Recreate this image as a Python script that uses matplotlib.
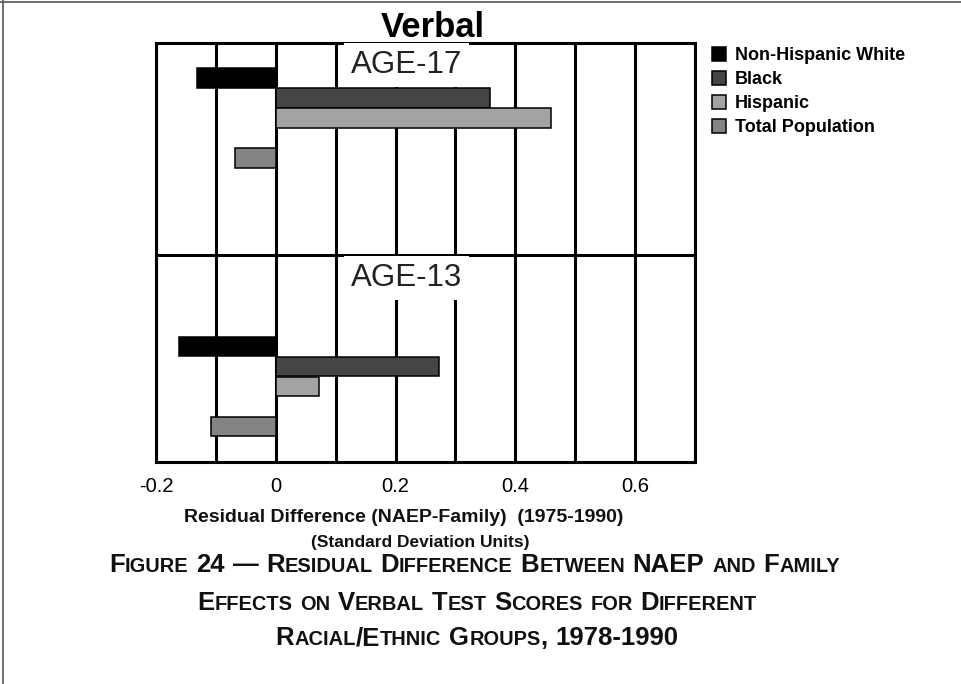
import matplotlib
matplotlib.use("Agg")
import matplotlib.pyplot as plt
from matplotlib import font_manager
from matplotlib.lines import Line2D
from matplotlib.offsetbox import TextArea, HPacker, AnnotationBbox

# data
groups = ["AGE-17", "AGE-13"]
series = ["Non-Hispanic White", "Black", "Hispanic", "Total Population"]
nhw = [-0.131, -0.162]
black = [0.357, 0.272]
hispanic = [0.459, 0.072]
total = [-0.068, -0.108]
tick_vals = [-0.2, 0, 0.2, 0.4, 0.6]
tick_labels = ["-0.2", "0", "0.2", "0.4", "0.6"]

# layout (y in "slot" units of ~20 px, top of axes = 0)
group_base = [1.75, 15.18]
series_offset = [0, 1, 2, 4]
label_y = [1.1, 11.75]
split_y = 10.6
colors = ["#000000", "#454545", "#a3a3a3", "#848484"]

names = {f.name for f in font_manager.fontManager.ttflist}
base_font = "Liberation Sans" if "Liberation Sans" in names else "DejaVu Sans"
cap_font = "Liberation Sans Narrow" if "Liberation Sans Narrow" in names else base_font
plt.rcParams["font.family"] = base_font

fig = plt.figure(figsize=(9.62, 6.84), dpi=100)
ax = fig.add_axes([156 / 962, 1 - 462 / 684, 539 / 962, 419 / 684])

values = [nhw, black, hispanic, total]
handles = []
for i, name in enumerate(series):
    ys = [b + series_offset[i] for b in group_base]
    h = ax.barh(ys, values[i], height=0.97, color=colors[i], edgecolor="black",
                linewidth=1.1, label=name, zorder=3)
    handles.append(h)

ax.set_xlim(-0.2, 0.7)
ax.set_ylim(20.95, 0)
ax.set_xticks(tick_vals)
ax.set_xticklabels(tick_labels, fontsize=14.5)
ax.set_xticks([-0.1, 0.1, 0.3, 0.5, 0.7], minor=True)
ax.set_yticks([])
ax.tick_params(axis="x", which="both", length=0, pad=11)
ax.grid(True, axis="x", which="both", color="black", linewidth=2.2, zorder=1)
ax.set_axisbelow(True)
for s in ax.spines.values():
    s.set_linewidth(2.2)
ax.axhline(split_y, color="black", linewidth=2.2, zorder=2)

for g, yy in zip(groups, label_y):
    ax.text(0.219, yy, g, fontsize=22.5, color="#222222", ha="center", va="center", zorder=4,
            bbox=dict(facecolor="white", edgecolor="none", pad=5))

fig.text(433 / 962, 1 - 37 / 684, "Verbal", fontsize=25, fontweight="bold",
         ha="center", va="baseline")

fig.text(404 / 962, 1 - 517 / 684, "Residual Difference (NAEP-Family)  (1975-1990)",
         fontsize=14, fontweight="bold", ha="center", va="center", color="#111111")
fig.text(420 / 962, 1 - 542 / 684, "(Standard Deviation Units)",
         fontsize=12.5, fontweight="bold", ha="center", va="center", color="#111111")

fig.legend(handles=handles, labels=series, loc="upper left",
           bbox_to_anchor=(703 / 962, 1 - 38 / 684), frameon=False, borderpad=0,
           handlelength=0.8, handleheight=0.85, handletextpad=0.45, labelspacing=0.36,
           prop=dict(family=base_font, weight="bold", size=13))


def caps_line(text, x, y, size):
    # fake small caps: lowercase letters drawn as smaller capitals
    words = []
    for w in text.split(" "):
        parts = []
        run, low = "", None
        for ch in w:
            is_low = ch.islower()
            if low is None or is_low == low:
                run += ch
            else:
                parts.append((run, low))
                run = ch
            low = is_low
        parts.append((run, low))
        kids = [TextArea(r.upper(), textprops=dict(fontsize=size * 0.78 if l else size,
                                                   family=cap_font, weight="bold",
                                                   color="#111111"))
                for r, l in parts]
        words.append(HPacker(children=kids, align="baseline", pad=0, sep=0))
    line = HPacker(children=words, align="baseline", pad=0, sep=size * 0.3)
    ab = AnnotationBbox(line, (x, y), xycoords="figure fraction", frameon=False,
                        box_alignment=(0.5, 0.5), pad=0)
    fig.add_artist(ab)


caps_line("Figure 24 \u2014 Residual Difference Between NAEP and Family", 474.5 / 962, 1 - 564.5 / 684, 18.5)
caps_line("Effects on Verbal Test Scores for Different", 477 / 962, 1 - 602.6 / 684, 18.5)
caps_line("Racial/Ethnic Groups, 1978-1990", 477 / 962, 1 - 638 / 684, 18.5)

# thin frame on left and top edges
fig.add_artist(Line2D([2.5 / 962, 2.5 / 962], [0, 1], transform=fig.transFigure,
                      color="#555555", linewidth=1.2))
fig.add_artist(Line2D([0, 1], [1 - 1.5 / 684, 1 - 1.5 / 684], transform=fig.transFigure,
                      color="#555555", linewidth=1.2))

fig.savefig("out.png", dpi=100)
